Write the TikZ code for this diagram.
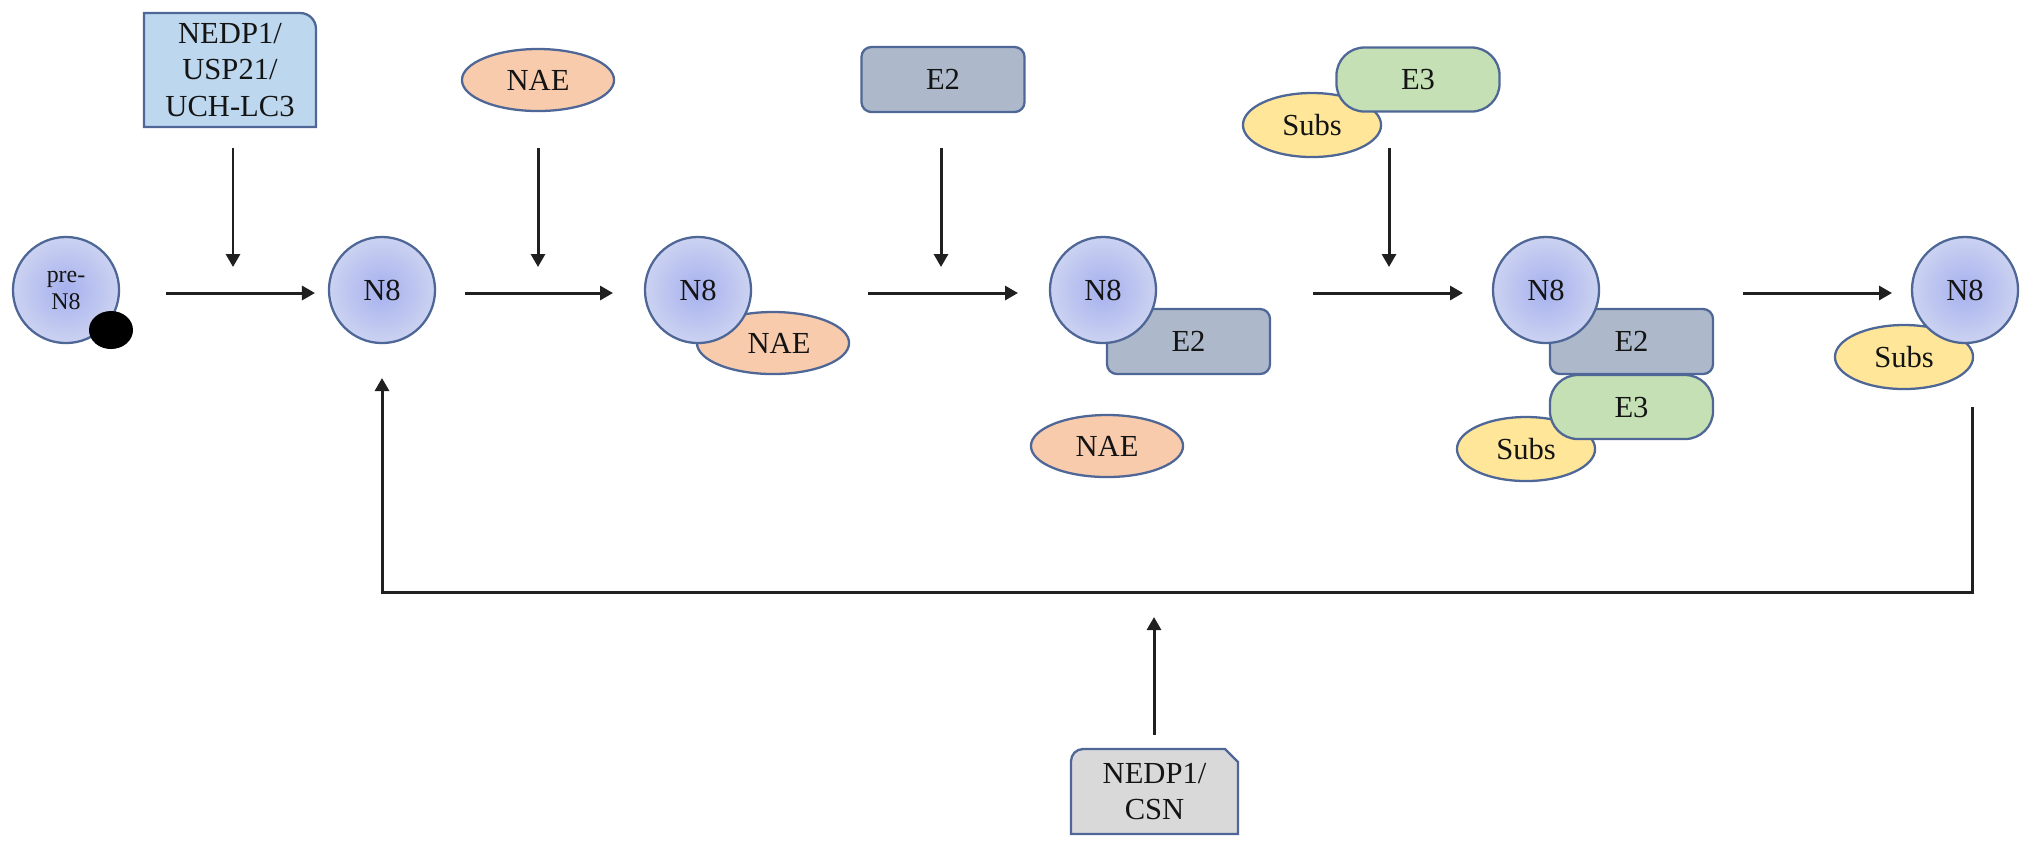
\documentclass[tikz,border=0pt]{standalone}
\usepackage{fontspec}
\setmainfont{Liberation Serif}
\usetikzlibrary{arrows.meta,shapes.geometric}
\definecolor{bord}{HTML}{4E6797}
\definecolor{txt}{HTML}{141414}
\definecolor{arr}{HTML}{202020}
\definecolor{n8in}{HTML}{A6B1EE}
\definecolor{n8out}{HTML}{CBD2F1}
\definecolor{nedpfill}{HTML}{BDD7EE}
\definecolor{naefill}{HTML}{F8CBAD}
\definecolor{etwofill}{HTML}{ADB9CA}
\definecolor{ethreefill}{HTML}{C5E0B4}
\definecolor{subsfill}{HTML}{FFE699}
\definecolor{csnfill}{HTML}{D9D9D9}
\begin{document}
\begin{tikzpicture}[x=0.01cm,y=-0.01cm,
  every node/.style={font=\fontsize{8.7}{10.5}\selectfont, text=txt, inner sep=0pt, outer sep=0pt},
  shapeline/.style={draw=bord, line width=0.65pt},
  neddisc/.style={shapeline, circle, minimum size=1.06cm, inner color=n8in, outer color=n8out},
  naeblob/.style={shapeline, ellipse, fill=naefill, minimum width=1.52cm, minimum height=0.62cm},
  subsblob/.style={shapeline, ellipse, fill=subsfill, minimum width=1.38cm, minimum height=0.64cm},
  etwobox/.style={shapeline, rectangle, rounded corners=0.1cm, fill=etwofill, minimum width=1.63cm, minimum height=0.65cm},
  ethreebox/.style={shapeline, rectangle, rounded corners=0.28cm, fill=ethreefill, minimum width=1.63cm, minimum height=0.64cm},
  flow/.style={draw=arr, line width=0.85pt, -{Triangle[length=0.13cm,width=0.14cm]}}
]
\useasboundingbox (0,0) rectangle (2031,847);

% ---- pre-N8 ----
\node[neddisc, font=\fontsize{6.8}{7.7}\selectfont, align=center] (pre) at (66,290) {pre-\\N8};
\node[ellipse, fill=black, minimum width=0.44cm, minimum height=0.38cm] (dot) at (111,330) {};

% ---- NEDP1/USP21/UCH-LC3 box ----
\draw[shapeline, fill=nedpfill] (144,127) -- (144,13) -- (300,13) .. controls (309,13) and (316,20) .. (316,29) -- (316,127) -- cycle;
\node[align=center, minimum width=1.72cm, minimum height=1.14cm] (nedp) at (230,70) {NEDP1/\\USP21/\\UCH-LC3};

% ---- N8 #1 ----
\node[neddisc] (n1) at (382,290) {N8};

% ---- NAE top ----
\node[naeblob] (naetop) at (538,80) {NAE};

% ---- N8 + NAE ----
\node[naeblob] (nae2) at (773,343) {\hspace*{0.12cm}NAE};
\node[neddisc] (n2) at (698,290) {N8};

% ---- E2 top ----
\node[etwobox] (e2top) at (943,79.5) {E2};

% ---- N8 + E2 ----
\node[etwobox] (e2c) at (1188.5,341.5) {E2};
\node[neddisc] (n3) at (1103,290) {N8};
\node[naeblob] (naefree) at (1107,446) {NAE};

% ---- Subs + E3 top ----
\node[subsblob] (substop) at (1312,125) {Subs};
\node[ethreebox] (e3top) at (1418,79.5) {E3};

% ---- N8 + E2 + E3 + Subs ----
\node[subsblob] (subs4) at (1526,449) {Subs};
\node[ethreebox] (e3c) at (1631.5,407) {E3};
\node[etwobox] (e2d) at (1631.5,341.5) {E2};
\node[neddisc] (n4) at (1546,290) {N8};

% ---- N8 + Subs ----
\node[subsblob] (subs5) at (1904,357) {Subs};
\node[neddisc] (n5) at (1965,290) {N8};

% ---- NEDP1/CSN box ----
\draw[shapeline, fill=csnfill] (1071,834) -- (1071,761) .. controls (1071,754.4) and (1076.4,749) .. (1083,749) -- (1225,749) -- (1238,762) -- (1238,834) -- cycle;
\node[align=center, minimum width=1.67cm, minimum height=0.85cm] (csn) at (1154.5,791.5) {NEDP1/\\CSN};

% ---- connector end points ----
\coordinate (h1s) at (166,293);  \coordinate (h1e) at (315,293);
\coordinate (h2s) at (465,293);  \coordinate (h2e) at (613,293);
\coordinate (h3s) at (868,293);  \coordinate (h3e) at (1018,293);
\coordinate (h4s) at (1313,293); \coordinate (h4e) at (1463,293);
\coordinate (h5s) at (1743,293); \coordinate (h5e) at (1892,293);
\coordinate (v1s) at (233,148);  \coordinate (v1e) at (233,267);
\coordinate (v2s) at (538,148);  \coordinate (v2e) at (538,267);
\coordinate (v3s) at (941,148);  \coordinate (v3e) at (941,267);
\coordinate (v4s) at (1389,148); \coordinate (v4e) at (1389,267);
\coordinate (rs) at (1972,407);
\coordinate (rc1) at (1972,592);
\coordinate (rc2) at (382,592);
\coordinate (re) at (382,378);
\coordinate (us) at (1154,735);
\coordinate (ue) at (1154,617);

% ---- arrows ----
\draw[flow] (h1s) -- (h1e);
\draw[flow] (h2s) -- (h2e);
\draw[flow] (h3s) -- (h3e);
\draw[flow] (h4s) -- (h4e);
\draw[flow] (h5s) -- (h5e);
\draw[flow] (v1s) -- (v1e);
\draw[flow] (v2s) -- (v2e);
\draw[flow] (v3s) -- (v3e);
\draw[flow] (v4s) -- (v4e);
\draw[flow] (rs) -- (rc1) -- (rc2) -- (re);
\draw[flow] (us) -- (ue);
\end{tikzpicture}
\end{document}
